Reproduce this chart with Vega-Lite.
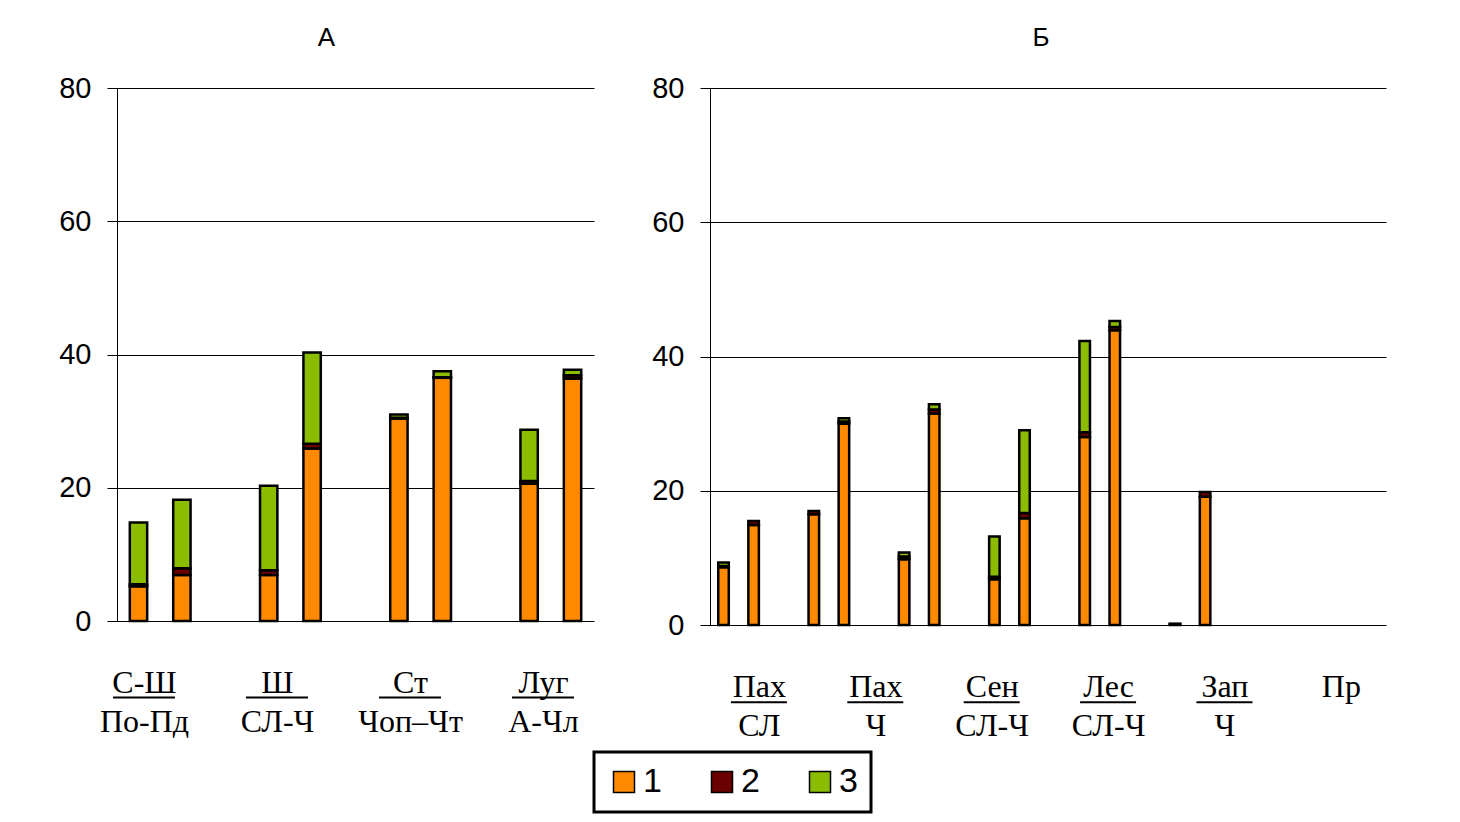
{
  "$schema": "https://vega.github.io/schema/vega-lite/v6.json",
  "padding": {"left": 58, "top": 25, "right": 10, "bottom": 5},
  "background": "white",
  "datasets": {
    "barsA": [
      {"slot": "a0", "series": "1", "value": 5.2}, {"slot": "a0", "series": "2", "value": 0.3}, {"slot": "a0", "series": "3", "value": 9.3},
      {"slot": "a1", "series": "1", "value": 6.9}, {"slot": "a1", "series": "2", "value": 1.0}, {"slot": "a1", "series": "3", "value": 10.3},
      {"slot": "a3", "series": "1", "value": 6.9}, {"slot": "a3", "series": "2", "value": 0.7}, {"slot": "a3", "series": "3", "value": 12.7},
      {"slot": "a4", "series": "1", "value": 25.9}, {"slot": "a4", "series": "2", "value": 0.7}, {"slot": "a4", "series": "3", "value": 13.7},
      {"slot": "a6", "series": "1", "value": 30.4}, {"slot": "a6", "series": "2", "value": 0.1}, {"slot": "a6", "series": "3", "value": 0.5},
      {"slot": "a7", "series": "1", "value": 36.5}, {"slot": "a7", "series": "2", "value": 0.1}, {"slot": "a7", "series": "3", "value": 0.9},
      {"slot": "a9", "series": "1", "value": 20.6}, {"slot": "a9", "series": "2", "value": 0.4}, {"slot": "a9", "series": "3", "value": 7.7},
      {"slot": "a10", "series": "1", "value": 36.4}, {"slot": "a10", "series": "2", "value": 0.5}, {"slot": "a10", "series": "3", "value": 0.8}
    ],
    "barsB": [
      {"slot": "b0", "series": "1", "value": 8.6}, {"slot": "b0", "series": "2", "value": 0.2}, {"slot": "b0", "series": "3", "value": 0.5},
      {"slot": "b1", "series": "1", "value": 14.9}, {"slot": "b1", "series": "2", "value": 0.6},
      {"slot": "b3", "series": "1", "value": 16.5}, {"slot": "b3", "series": "2", "value": 0.5},
      {"slot": "b4", "series": "1", "value": 30.0}, {"slot": "b4", "series": "2", "value": 0.3}, {"slot": "b4", "series": "3", "value": 0.5},
      {"slot": "b6", "series": "1", "value": 9.8}, {"slot": "b6", "series": "2", "value": 0.4}, {"slot": "b6", "series": "3", "value": 0.6},
      {"slot": "b7", "series": "1", "value": 31.5}, {"slot": "b7", "series": "2", "value": 0.6}, {"slot": "b7", "series": "3", "value": 0.8},
      {"slot": "b9", "series": "1", "value": 6.8}, {"slot": "b9", "series": "2", "value": 0.4}, {"slot": "b9", "series": "3", "value": 6.0},
      {"slot": "b10", "series": "1", "value": 15.9}, {"slot": "b10", "series": "2", "value": 0.8}, {"slot": "b10", "series": "3", "value": 12.3},
      {"slot": "b12", "series": "1", "value": 28.0}, {"slot": "b12", "series": "2", "value": 0.7}, {"slot": "b12", "series": "3", "value": 13.6},
      {"slot": "b13", "series": "1", "value": 43.9}, {"slot": "b13", "series": "2", "value": 0.5}, {"slot": "b13", "series": "3", "value": 0.9},
      {"slot": "b15", "series": "1", "value": 0.1}, {"slot": "b15", "series": "2", "value": 0.1},
      {"slot": "b16", "series": "1", "value": 19.1}, {"slot": "b16", "series": "2", "value": 0.7}
    ],
    "labA": [{"g": "С-Ш|По-Пд"}, {"g": "Ш|СЛ-Ч"}, {"g": "Ст|Чоп–Чт"}, {"g": "Луг|А-Чл"}],
    "labB": [{"g": "Пах|СЛ"}, {"g": "Пах|Ч"}, {"g": "Сен|СЛ-Ч"}, {"g": "Лес|СЛ-Ч"}, {"g": "Зап|Ч"}, {"g": "Пр"}]
  },
  "hconcat": [
    {
      "title": {"text": "А", "fontSize": 26, "fontWeight": "normal", "font": "Liberation Sans", "color": "black", "anchor": "middle", "frame": "bounds", "offset": 23},
      "width": 477,
      "height": 533,
      "layer": [
        {
          "data": {"name": "barsA"},
          "mark": {"type": "bar", "stroke": "black", "strokeWidth": 2.5},
          "encoding": {
            "x": {"field": "slot", "type": "nominal", "scale": {"domain": ["a0","a1","a2","a3","a4","a5","a6","a7","a8","a9","a10"], "paddingInner": 0.6, "paddingOuter": 0.295}, "axis": null},
            "y": {"field": "value", "type": "quantitative", "stack": "zero", "scale": {"domain": [0, 80], "nice": false}, "axis": {"values": [0, 20, 40, 60, 80], "title": null}},
            "color": {"field": "series", "type": "nominal", "scale": {"domain": ["1", "2", "3"], "range": ["#FF8A00", "#6B0000", "#8CBC00"]},
              "legend": {"title": null, "orient": "none", "legendX": 477, "legendY": 664, "direction": "horizontal", "symbolType": "square", "symbolSize": 441, "symbolStrokeColor": "black", "symbolStrokeWidth": 1.5, "symbolOpacity": 1, "labelFontSize": 34, "labelFont": "Liberation Sans", "labelColor": "black", "labelOffset": 2, "columnPadding": 43, "padding": 13, "strokeColor": "black"}},
            "order": {"field": "series", "type": "ordinal", "sort": "ascending"}
          }
        },
        {
          "data": {"name": "labA"},
          "mark": {"type": "tick", "orient": "horizontal", "size": 62, "thickness": 2, "color": "black", "opacity": 1},
          "encoding": {
            "x": {"field": "g", "type": "nominal", "scale": {"type": "point", "domain": ["С-Ш|По-Пд", "Ш|СЛ-Ч", "Ст|Чоп–Чт", "Луг|А-Чл"], "padding": 0.293, "align": 0.346},
              "axis": {"orient": "bottom", "title": null, "domain": false, "ticks": false, "tickSize": 0, "grid": false, "labelPadding": 46, "labelFont": "Liberation Serif", "labelFontSize": 32, "labelLineHeight": 39, "labelColor": "black", "labelAngle": 0,
                "labelExpr": "[replace(datum.value, regexp('[|].*'), ''), replace(datum.value, regexp('.*[|]'), '')]"}},
            "y": {"datum": -11.5, "type": "quantitative"}
          }
        }
      ],
      "resolve": {"scale": {"x": "independent"}}
    },
    {
      "title": {"text": "Б", "fontSize": 26, "fontWeight": "normal", "font": "Liberation Sans", "color": "black", "anchor": "middle", "frame": "group", "offset": 23, "dx": -7},
      "width": 676,
      "height": 537,
      "layer": [
        {
          "data": {"name": "barsB"},
          "mark": {"type": "bar", "stroke": "black", "strokeWidth": 2.5},
          "encoding": {
            "x": {"field": "slot", "type": "nominal", "scale": {"domain": ["b0","b1","b2","b3","b4","b5","b6","b7","b8","b9","b10","b11","b12","b13","b14","b15","b16","b17","b18","b19","b20","b21"], "paddingInner": 0.65, "paddingOuter": 0.555, "align": 0.247}, "axis": null},
            "y": {"field": "value", "type": "quantitative", "stack": "zero", "scale": {"domain": [0, 80], "nice": false}, "axis": {"values": [0, 20, 40, 60, 80], "title": null}},
            "color": {"field": "series", "type": "nominal", "scale": {"domain": ["1", "2", "3"], "range": ["#FF8A00", "#6B0000", "#8CBC00"]},
              "legend": {"title": null, "orient": "none", "legendX": 477, "legendY": 664, "direction": "horizontal", "symbolType": "square", "symbolSize": 441, "symbolStrokeColor": "black", "symbolStrokeWidth": 1.5, "symbolOpacity": 1, "labelFontSize": 34, "labelFont": "Liberation Sans", "labelColor": "black", "labelOffset": 2, "columnPadding": 43, "padding": 13, "strokeColor": "black"}},
            "order": {"field": "series", "type": "ordinal", "sort": "ascending"}
          }
        },
        {
          "data": {"name": "labB"},
          "transform": [{"filter": "datum.g != 'Пр'"}],
          "mark": {"type": "tick", "orient": "horizontal", "size": 56, "thickness": 2, "color": "black", "opacity": 1},
          "encoding": {
            "x": {"field": "g", "type": "nominal", "scale": {"type": "point", "domain": ["Пах|СЛ", "Пах|Ч", "Сен|СЛ-Ч", "Лес|СЛ-Ч", "Зап|Ч", "Пр"], "padding": 0.404, "align": 0.52},
              "axis": {"orient": "bottom", "title": null, "domain": false, "ticks": false, "tickSize": 0, "grid": false, "labelPadding": 46, "labelFont": "Liberation Serif", "labelFontSize": 32, "labelLineHeight": 39, "labelColor": "black", "labelAngle": 0,
                "labelExpr": "datum.value == 'Пр' ? 'Пр' : [replace(datum.value, regexp('[|].*'), ''), replace(datum.value, regexp('.*[|]'), '')]"}},
            "y": {"datum": -11.5, "type": "quantitative"}
          }
        }
      ],
      "resolve": {"scale": {"x": "independent"}}
    }
  ],
  "spacing": 57,
  "config": {
    "view": {"stroke": null},
    "font": "Liberation Sans",
    "axisY": {"domainColor": "black", "domainWidth": 1, "gridColor": "black", "gridWidth": 1, "gridOpacity": 1, "tickColor": "black", "tickSize": 10, "tickWidth": 1, "labelFont": "Liberation Sans", "labelFontSize": 29, "labelColor": "black", "labelPadding": 16},
    "legend": {"strokeWidth": 3}
  }
}
